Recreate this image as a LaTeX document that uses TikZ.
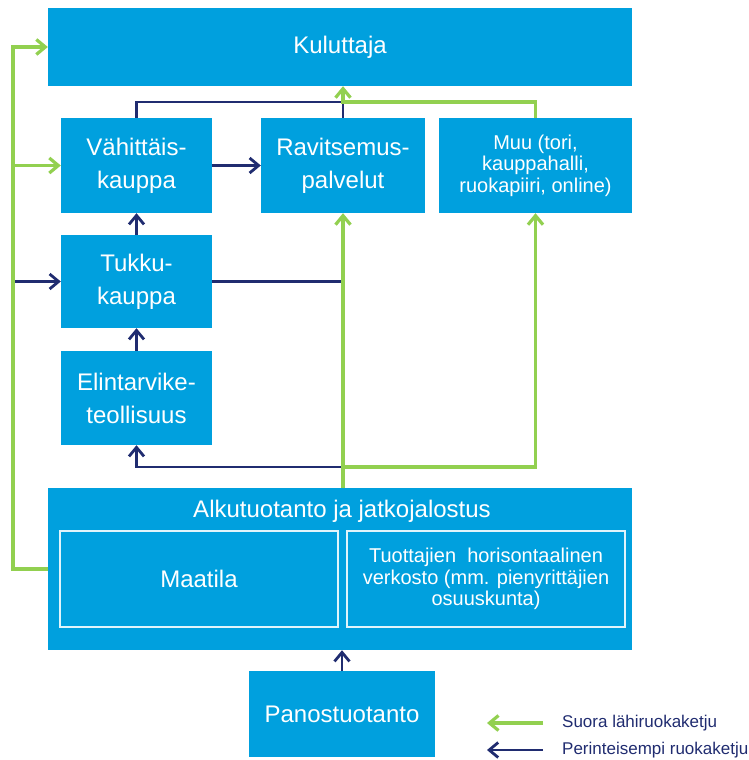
\documentclass[tikz,border=0pt]{standalone}
\usepackage{fontspec}
\setmainfont{Liberation Sans}
\usetikzlibrary{arrows.meta}
\definecolor{boxblue}{RGB}{0,160,222}
\definecolor{chaingreen}{RGB}{146,208,80}
\definecolor{chainnavy}{RGB}{32,44,112}
\tikzset{
  box/.style={fill=boxblue, draw=none, text=white, align=center, inner sep=0pt},
  inbox/.style={draw=white!88!boxblue, line width=1.8pt, fill=none, text=white, align=center, inner sep=0pt},
  big/.style={font=\fontsize{24}{33}\selectfont},
  small/.style={font=\fontsize{20}{21.5}\selectfont},
  tip/.style={-{Straight Barb[length=9pt,width=15pt]}},
  gline/.style={draw=chaingreen, line width=3.2pt},
  nline/.style={draw=chainnavy, line width=2.8pt},
}
\begin{document}
\begin{tikzpicture}[x=1pt,y=-1pt]
\useasboundingbox (0,0) rectangle (748,760);

% boxes
\node[box,big,minimum width=584pt,minimum height=78pt] (kul) at (340,47) {Kuluttaja};
\node[box,big,minimum width=151pt,minimum height=95pt] (vah) at (136.5,165.5) {Vähittäis-\\kauppa};
\node[box,big,minimum width=164pt,minimum height=95pt] (rav) at (343,165.5) {Ravitsemus-\\palvelut};
\node[box,small,minimum width=193pt,minimum height=95pt] (muu) at (535.5,165.5) {Muu (tori,\\kauppahalli,\\ruokapiiri, online)};
\node[box,big,minimum width=151pt,minimum height=93pt] (tuk) at (136.5,281.5) {Tukku-\\kauppa};
\node[box,big,minimum width=151pt,minimum height=94pt] (eli) at (136.5,398) {Elintarvike-\\teollisuus};
\node[box,minimum width=584pt,minimum height=162pt] (alk) at (340,569) {};
\node[text=white,big] (alkt) at (342,511) {Alkutuotanto ja jatkojalostus};
\node[inbox,big,minimum width=278pt,minimum height=96pt] (maa) at (199,579) {Maatila};
\node[inbox,small,minimum width=278pt,minimum height=96pt] (tuo) at (486,579) {Tuottajien\ \ horisontaalinen\\verkosto (mm. pienyrittäjien\\osuuskunta)};
\node[box,big,minimum width=186pt,minimum height=86pt] (pan) at (342,714) {Panostuotanto};

% junction points
\coordinate (jT) at (343,102);
\coordinate (jB) at (343,467);
\coordinate (lb) at (13,569);
\coordinate (lt) at (13,47);

% traditional chain
\draw[nline] (vah.north) |- (jT) -- (rav.north);
\draw[nline,tip] (vah.east) -- (rav.west);
\draw[nline,tip] (tuk.north) -- (vah.south);
\draw[nline,tip] (eli.north) -- (tuk.south);
\draw[nline,tip] (tuk.west -| lb) -- (tuk.west);
\draw[nline] (tuk.east) -- (tuk.east -| jB);
\draw[nline,tip] (jB) -| (eli.south);
\draw[nline,tip] (pan.north) -- (pan.north |- alk.south);

% direct local chain
\draw[gline,tip] (alk.west) -- (lb) -- (lt) -- (kul.west);
\draw[gline,tip] (vah.west -| lb) -- (vah.west);
\draw[gline,tip] (jB |- alk.north) -- (rav.south);
\draw[gline,tip] (jB) -| (muu.south);
\draw[gline,tip] (muu.north) |- (jT) -- (jT |- kul.south);

% legend
\coordinate (g1) at (543,723);
\coordinate (g0) at (487,723);
\coordinate (n1) at (543,750);
\coordinate (n0) at (487,750);
\draw[gline,tip] (g1) -- (g0);
\draw[nline,tip] (n1) -- (n0);
\node[anchor=west,inner sep=0pt,text=chainnavy,font=\fontsize{17}{20}\selectfont] (lg) at (562,723) {Suora lähiruokaketju};
\node[anchor=west,inner sep=0pt,text=chainnavy,font=\fontsize{17}{20}\selectfont] (ln) at (562,750) {Perinteisempi ruokaketju};
\end{tikzpicture}
\end{document}
